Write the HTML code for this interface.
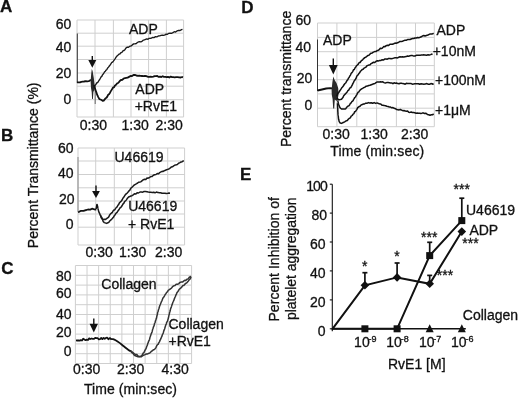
<!DOCTYPE html>
<html><head><meta charset="utf-8"><style>
html,body{margin:0;padding:0;background:#fff;width:520px;height:401px;overflow:hidden;}
svg{display:block;will-change:transform;}
text{font-family:"Liberation Sans",sans-serif;font-size:14px;fill:#111;stroke:#111;stroke-width:0.3px;}
.g{stroke:#cfcfcf;stroke-width:1;}
.k{stroke:#333;stroke-width:1;}
.c{fill:none;stroke:#111;stroke-width:1.5;stroke-linejoin:round;}
.c1{fill:none;stroke:#1a1a1a;stroke-width:1.35;stroke-linejoin:round;}
.c2{fill:none;stroke:#111;stroke-width:1.8;stroke-linejoin:round;}
.k2{stroke:#999;stroke-width:1.2;}
.cc{fill:none;stroke:#333;stroke-width:1.5;stroke-linejoin:round;}
.cd{fill:none;stroke:#111;stroke-width:1.5;stroke-linejoin:round;}
.cb{fill:none;stroke:#1a1a1a;stroke-width:1.5;stroke-linejoin:round;}
.sp{stroke:#666;stroke-width:1;}
.ar{stroke:#111;stroke-width:1.4;}
.ax1{stroke:#111;stroke-width:1.1;}
.ax2{stroke:#111;stroke-width:1.5;}
.d{fill:none;stroke:#111;stroke-width:2;}
.eb{stroke:#111;stroke-width:1.7;}
</style></head><body>
<svg width="520" height="401" viewBox="0 0 520 401">
<text x="0" y="12.4" style="font-weight:bold;font-size:17px;">A</text>
<line x1="77" y1="20" x2="77" y2="117" class="g"/>
<line x1="95" y1="20" x2="95" y2="117" class="g"/>
<line x1="113.4" y1="20" x2="113.4" y2="117" class="g"/>
<line x1="131" y1="20" x2="131" y2="117" class="g"/>
<line x1="148.6" y1="20" x2="148.6" y2="117" class="g"/>
<line x1="166.4" y1="20" x2="166.4" y2="117" class="g"/>
<line x1="183.6" y1="20" x2="183.6" y2="117" class="g"/>
<line x1="77" y1="20" x2="183.6" y2="20" class="g"/>
<line x1="77" y1="33.2" x2="183.6" y2="33.2" class="g"/>
<line x1="77" y1="46.2" x2="183.6" y2="46.2" class="g"/>
<line x1="77" y1="59.5" x2="183.6" y2="59.5" class="g"/>
<line x1="77" y1="73" x2="183.6" y2="73" class="g"/>
<line x1="77" y1="86.2" x2="183.6" y2="86.2" class="g"/>
<line x1="77" y1="99.7" x2="183.6" y2="99.7" class="g"/>
<line x1="77" y1="117" x2="183.6" y2="117" class="g"/>
<line x1="77.3" y1="33.5" x2="77.3" y2="83" class="k"/>
<text x="71.3" y="29" text-anchor="end">60</text>
<text x="71.3" y="51.9" text-anchor="end">40</text>
<text x="71.3" y="78" text-anchor="end">20</text>
<text x="71.3" y="103.6" text-anchor="end">0</text>
<text x="129" y="33.9">ADP</text>
<text x="135.3" y="93.8">ADP</text>
<text x="134.7" y="110.6">+RvE1</text>
<text x="79.8" y="130">0:30</text>
<text x="121.5" y="130">1:30</text>
<text x="155.5" y="130">2:30</text>
<line x1="92.3" y1="56" x2="92.3" y2="60.900000000000006" class="ar"/>
<polygon points="88.3,59.900000000000006 96.3,59.900000000000006 92.3,67.7" fill="#111"/>
<polyline points="77.0,82.4 78.2,82.3 80.0,82.3 81.3,81.8 82.7,81.6 84.0,81.5 85.8,81.2 87.3,81.4 88.5,81.1 89.5,80.8 90.4,80.2 91.0,80.4" class="c2"/>
<path d="M90.6,81.5 L91.2,74 L91.8,69 L92.6,71 L93.8,78 L94.6,85 L94.3,90 L93.4,92 L92.9,99 L92.1,99 L91.7,92 L91,88 Z" fill="#2a2a2a"/>
<line x1="95.2" y1="86" x2="95.2" y2="104" class="sp"/>
<polyline points="94.5,85.6 95.0,85.7 96.1,84.2 96.7,82.8 97.3,82.9 98.1,82.0 98.8,80.7 99.7,79.5 100.5,78.0 101.1,76.9 101.8,76.4 102.5,74.9 103.3,74.0 104.0,72.9 104.7,71.7 105.4,71.2 106.0,70.2 106.9,69.4 107.7,68.0 108.5,67.1 109.3,66.0 110.0,65.2 110.9,63.8 111.7,62.5 112.5,62.2 113.4,61.1 114.3,59.8 115.2,58.6 116.1,57.1 117.0,56.0 117.9,55.2 118.9,54.1 119.8,54.0 120.9,52.7 121.9,52.3 122.9,50.9 124.0,50.5 125.1,49.4 126.1,47.8 127.3,47.2 128.5,47.2 129.8,46.2 131.0,46.1 132.3,44.9 133.6,43.9 134.9,43.9 136.3,43.5 137.4,42.5 138.5,41.9 139.7,41.7 140.8,41.9 142.0,41.3 143.2,40.2 144.4,39.9 145.6,39.4 146.8,38.9 148.0,39.3 149.2,38.3 150.4,38.4 151.6,38.0 152.8,37.4 154.0,37.6 155.5,36.7 156.9,36.8 158.3,36.0 159.7,35.9 161.0,35.4 162.3,35.1 163.6,35.4 165.0,34.9 166.2,34.1 167.5,34.3 168.8,33.3 170.2,33.1 171.4,33.3 172.9,32.6 174.3,31.7 175.6,32.1 177.0,30.9 178.5,30.5 180.1,30.5 181.5,29.6 182.5,29.3" class="c1"/>
<polyline points="94.0,85.1 94.2,85.8 94.6,87.6 95.0,88.4 95.5,90.2 96.1,91.6 96.6,93.0 97.2,94.9 97.7,95.8 98.3,97.1 99.4,99.1 100.5,99.5 101.6,100.0 102.7,100.9 103.7,100.6 104.9,99.1 105.6,98.2 106.5,97.7 107.3,96.6 108.2,94.7 109.0,94.2 109.9,92.9 110.7,91.4 111.5,90.1 112.4,88.6 113.1,87.5 114.0,87.4 115.0,85.5 116.1,84.8 117.2,83.3 118.1,83.0 119.1,81.9 120.0,80.8 121.0,80.0 122.3,79.8 123.7,78.5 125.0,78.1 126.3,77.9 127.6,77.7 129.0,76.9 130.5,76.0 132.0,76.1 133.5,75.0 134.9,74.9 136.3,75.5 138.0,75.9 139.2,75.6 140.6,75.8 142.1,76.0 143.6,76.2 145.0,75.8 146.4,76.1 147.8,76.8 149.1,76.9 150.5,76.7 152.0,76.8 153.3,76.7 154.6,76.2 155.9,76.1 157.3,76.0 158.7,76.9 160.0,76.7 161.3,77.0 162.7,76.2 164.0,76.9 165.3,76.8 166.7,77.2 168.0,76.8 169.3,77.5 170.7,76.6 172.1,77.1 173.4,77.2 174.7,77.4 176.0,77.2 177.6,77.2 179.2,77.4 180.8,77.5 182.1,77.0 183.0,77.4" class="c2"/>
<text transform="translate(38.1,248.2) rotate(-90)">Percent Transmittance (%)</text>
<text x="1" y="141" style="font-weight:bold;font-size:17px;">B</text>
<line x1="78" y1="148" x2="78" y2="245" class="g"/>
<line x1="95.7" y1="148" x2="95.7" y2="245" class="g"/>
<line x1="114.3" y1="148" x2="114.3" y2="245" class="g"/>
<line x1="131.5" y1="148" x2="131.5" y2="245" class="g"/>
<line x1="149.7" y1="148" x2="149.7" y2="245" class="g"/>
<line x1="167.7" y1="148" x2="167.7" y2="245" class="g"/>
<line x1="184.6" y1="148" x2="184.6" y2="245" class="g"/>
<line x1="78" y1="148" x2="184.6" y2="148" class="g"/>
<line x1="78" y1="161" x2="184.6" y2="161" class="g"/>
<line x1="78" y1="174.5" x2="184.6" y2="174.5" class="g"/>
<line x1="78" y1="187.8" x2="184.6" y2="187.8" class="g"/>
<line x1="78" y1="201" x2="184.6" y2="201" class="g"/>
<line x1="78" y1="214" x2="184.6" y2="214" class="g"/>
<line x1="78" y1="227.2" x2="184.6" y2="227.2" class="g"/>
<line x1="78" y1="245" x2="184.6" y2="245" class="g"/>
<line x1="78" y1="157" x2="78" y2="211.5" class="k2"/>
<text x="73.5" y="153" text-anchor="end">60</text>
<text x="73.5" y="177.7" text-anchor="end">40</text>
<text x="74.5" y="204.3" text-anchor="end">20</text>
<text x="73.5" y="228.9" text-anchor="end">0</text>
<text x="114.5" y="161.5">U46619</text>
<text x="128.2" y="211">U46619</text>
<text x="128" y="228.6">+ RvE1</text>
<text x="85.5" y="257">0:30</text>
<text x="119" y="257">1:30</text>
<text x="155" y="257">2:30</text>
<line x1="96" y1="185.6" x2="96" y2="191.9" class="ar"/>
<polygon points="92.1,190.9 99.9,190.9 96,198.1" fill="#111"/>
<polyline points="78.0,212.2 79.1,211.8 80.6,210.9 82.0,210.9 83.6,210.8 85.0,210.3 86.4,210.0 88.0,209.5 89.2,209.6 90.6,209.5 92.0,208.7 93.6,209.2 95.2,209.5 96.3,209.3" class="c2"/>
<polyline points="96.3,208.8 97,204.6 97.8,208" class="c2"/>
<polyline points="97.8,208.2 98.2,209.4 98.7,211.6 99.2,212.7 99.7,213.7 100.2,215.1 100.6,215.4 101.1,217.0 101.7,217.2 102.5,218.9 103.4,219.5 104.4,219.3 105.6,219.4 106.9,218.4 107.7,217.8 108.6,217.1 109.5,215.3 110.5,213.9 111.5,213.0 112.3,212.5 113.0,211.1 113.9,210.1 114.7,209.9 115.5,208.6 116.4,207.4 117.2,206.8 117.9,205.3 118.6,204.6 119.3,203.1 120.0,202.3 120.8,201.6 121.5,200.7 122.2,199.7 122.9,198.2 123.7,197.3 124.6,195.9 125.4,194.6 126.2,193.9 127.0,193.2 127.9,192.2 128.7,191.1 129.7,190.3 130.6,188.6 131.6,187.5 132.5,186.8 133.5,185.8 134.4,184.9 135.5,184.3 136.6,183.7 137.7,183.0 138.8,182.2 140.0,182.0 141.1,181.6 142.2,180.6 143.4,179.7 144.6,179.2 145.8,179.5 147.0,178.1 148.2,178.2 149.5,177.5 150.8,176.6 152.1,176.5 153.4,175.2 154.6,174.7 156.0,174.5 157.2,173.5 158.5,173.7 159.7,172.6 161.0,171.9 162.1,171.3 163.2,171.4 164.3,170.7 165.4,170.3 166.5,169.8 167.7,169.4 168.9,169.0 170.0,168.2 171.2,167.1 172.4,166.8 173.7,165.9 175.0,165.0 176.1,164.9 177.3,164.5 178.6,163.2 179.9,162.6 181.1,162.0 182.2,161.7 183.1,161.0 183.8,160.7" class="cb"/>
<polyline points="100.2,215.1 100.6,215.6 101.1,217.2 101.7,218.7 102.3,219.1 103.2,221.4 104.2,222.6 105.2,222.9 106.5,223.4 108.0,222.7 108.8,222.4 109.7,221.0 110.6,220.2 111.6,219.4 112.6,218.1 113.4,217.3 114.2,215.8 115.0,214.9 115.9,213.3 116.7,212.7 117.5,211.7 118.3,210.5 119.1,209.5 120.0,207.9 120.7,207.5 121.5,206.5 122.2,205.5 122.9,204.1 123.9,203.1 124.7,201.4 125.6,200.9 126.4,199.9 127.5,198.2 128.6,197.0 129.8,196.5 130.8,196.0 132.0,195.7 133.2,194.8 134.4,193.8 135.7,194.1 137.1,192.8 138.5,193.0 140.0,192.0 141.3,191.9 142.7,192.2 144.1,191.5 145.5,191.5 147.0,191.8 148.3,192.1 149.6,192.3 151.0,192.2 152.4,192.6 153.7,192.3 155.0,192.8 156.4,192.1 157.8,192.4 159.2,192.8 160.6,192.7 162.0,193.2 163.4,193.2 164.9,193.2 166.4,193.5 167.9,193.3 169.1,193.1 170.0,193.2" class="cb"/>
<text x="1.2" y="273.8" style="font-weight:bold;font-size:17px;">C</text>
<line x1="75.4" y1="265.5" x2="75.4" y2="363.5" class="g"/>
<line x1="87.02000000000001" y1="265.5" x2="87.02000000000001" y2="363.5" class="g"/>
<line x1="98.64" y1="265.5" x2="98.64" y2="363.5" class="g"/>
<line x1="110.26" y1="265.5" x2="110.26" y2="363.5" class="g"/>
<line x1="121.88" y1="265.5" x2="121.88" y2="363.5" class="g"/>
<line x1="133.5" y1="265.5" x2="133.5" y2="363.5" class="g"/>
<line x1="145.12" y1="265.5" x2="145.12" y2="363.5" class="g"/>
<line x1="156.74" y1="265.5" x2="156.74" y2="363.5" class="g"/>
<line x1="168.36" y1="265.5" x2="168.36" y2="363.5" class="g"/>
<line x1="179.98000000000002" y1="265.5" x2="179.98000000000002" y2="363.5" class="g"/>
<line x1="191.6" y1="265.5" x2="191.6" y2="363.5" class="g"/>
<line x1="75.4" y1="265.5" x2="191.6" y2="265.5" class="g"/>
<line x1="75.4" y1="275.3" x2="191.6" y2="275.3" class="g"/>
<line x1="75.4" y1="285.1" x2="191.6" y2="285.1" class="g"/>
<line x1="75.4" y1="294.9" x2="191.6" y2="294.9" class="g"/>
<line x1="75.4" y1="304.7" x2="191.6" y2="304.7" class="g"/>
<line x1="75.4" y1="314.5" x2="191.6" y2="314.5" class="g"/>
<line x1="75.4" y1="324.3" x2="191.6" y2="324.3" class="g"/>
<line x1="75.4" y1="334.1" x2="191.6" y2="334.1" class="g"/>
<line x1="75.4" y1="343.9" x2="191.6" y2="343.9" class="g"/>
<line x1="75.4" y1="353.7" x2="191.6" y2="353.7" class="g"/>
<line x1="75.4" y1="363.5" x2="191.6" y2="363.5" class="g"/>
<text x="71.5" y="281.2" text-anchor="end">80</text>
<text x="71.5" y="298" text-anchor="end">60</text>
<text x="71.5" y="319.2" text-anchor="end">40</text>
<text x="71.5" y="337" text-anchor="end">20</text>
<text x="71.5" y="355.6" text-anchor="end">0</text>
<text x="101.3" y="288.5">Collagen</text>
<text x="168.5" y="328.9">Collagen</text>
<text x="168.5" y="346.2">+RvE1</text>
<text x="73" y="374">0:30</text>
<text x="117" y="374">2:30</text>
<text x="161.5" y="374">4:30</text>
<text x="84" y="394" textLength="93">Time (min:sec)</text>
<line x1="93.8" y1="318.5" x2="93.8" y2="324.8" class="ar"/>
<polygon points="89.6,323.8 98.0,323.8 93.8,332.6" fill="#111"/>
<polyline points="76,340.4 77.2,340.5 78.4,340.5 79.6,340.7 80.8,340.2 82.0,340.5 83.2,338.8 84.4,339.5 85.6,340.2 86.8,339.6 88.0,340.0 89.2,338.4 90.4,339.0 91.6,338.5 92.8,338.9 94.0,338.9 95.2,337.8 96.4,338.1 97.6,338.2 98.8,339.3 100.0,339.1 101.2,338.0 102.4,339.1 103.6,337.9 104.8,338.8 106.0,337.9 107.2,337.7 108.4,339.3 109.6,338.1 110.8,338.1" class="c2"/>
<path d="M110,338.8 C110.50,338.87 112.00,338.92 113,339.2 C114.00,339.48 114.97,339.93 116,340.5 C117.03,341.07 117.90,341.63 119.2,342.6 C120.50,343.57 122.25,345.07 123.8,346.3 C125.35,347.53 127.30,349.17 128.5,350 C129.70,350.83 130.58,351.08 131,351.3" class="c2"/>
<polyline points="131.0,351.6 131.7,352.6 132.8,353.1 134.0,354.9 135.3,355.8 136.7,356.2 138.0,356.7 139.5,356.7 141.0,356.2 141.7,355.5 142.4,354.7 143.2,353.0 143.9,352.8 144.7,350.9 145.5,349.3 146.0,348.7 146.4,347.4 146.8,346.2 147.3,345.3 147.8,343.4 148.2,342.7 148.6,341.3 149.1,340.5 149.6,339.2 150.0,337.3 150.4,336.3 150.9,334.7 151.3,333.6 151.8,332.7 152.2,331.4 152.6,329.6 153.1,328.2 153.5,326.8 153.9,326.1 154.2,325.3 154.5,323.6 155.1,322.5 155.5,320.7 155.8,319.9 156.2,318.7 156.5,318.1 156.8,316.4 157.1,315.2 157.4,314.1 157.7,312.2 158.1,311.5 158.5,309.7 158.9,308.8 159.3,307.3 159.7,305.9 160.1,305.0 160.6,303.7 161.1,302.5 161.6,301.3 162.1,300.3 162.7,298.7 163.2,297.7 163.8,297.0 164.5,295.8 165.2,294.5 165.9,293.7 166.7,292.4 167.5,291.7 168.4,290.1 169.4,289.6 170.4,288.8 171.5,288.1 172.5,286.7 173.8,285.8 175.0,285.6 176.2,284.2 177.5,284.3 178.8,283.6 180.0,282.4 181.3,282.1 182.5,282.1 183.6,281.1 184.7,280.3 185.8,280.4 186.9,279.3 188.1,278.9 189.3,277.3 190.4,276.8 191.2,276.5" class="cc"/>
<polyline points="131.0,350.8 131.8,351.5 132.9,352.7 134.2,353.7 135.4,354.5 136.6,354.4 137.7,355.5 138.9,356.5 140.0,356.6 141.2,356.8 142.4,355.8 144.0,355.0 145.1,354.6 146.3,354.0 147.6,353.9 149.0,353.3 150.3,352.6 151.5,351.3 152.4,350.6 153.4,349.8 154.3,349.5 155.1,348.7 155.9,347.6 156.7,345.7 157.5,344.6 158.1,344.4 158.7,342.9 159.3,342.1 159.9,340.6 160.4,339.6 161.0,338.4 161.5,337.1 162.0,336.1 162.5,334.4 162.9,333.9 163.3,332.8 163.8,330.9 164.2,329.9 164.6,329.0 165.0,327.5 165.4,326.2 165.7,325.2 166.3,324.0 166.7,322.2 167.2,321.9 167.6,320.6 168.1,319.0 168.4,318.1 168.7,316.6 169.0,315.1 169.3,314.0 169.6,312.6 169.9,311.8 170.3,310.3 170.6,308.6 171.0,307.9 171.5,306.4 171.9,305.1 172.4,303.9 172.9,302.2 173.3,301.5 173.8,300.4 174.3,298.9 174.8,297.7 175.4,296.5 175.9,295.0 176.4,294.3 176.9,292.7 177.7,291.7 178.4,290.7 179.2,289.3 180.0,288.7 180.9,287.9 181.9,286.9 182.8,285.6 183.8,285.4 184.7,284.4 185.7,283.4 186.6,283.0 187.5,282.0 188.3,281.0 189.2,279.7 190.0,279.1 190.7,277.8 191.2,277.1" class="cc"/>
<text x="241.3" y="12.5" style="font-weight:bold;font-size:17px;">D</text>
<line x1="317.5" y1="23" x2="317.5" y2="126.7" class="g"/>
<line x1="336.9" y1="23" x2="336.9" y2="126.7" class="g"/>
<line x1="356.8" y1="23" x2="356.8" y2="126.7" class="g"/>
<line x1="376.6" y1="23" x2="376.6" y2="126.7" class="g"/>
<line x1="396.4" y1="23" x2="396.4" y2="126.7" class="g"/>
<line x1="415.5" y1="23" x2="415.5" y2="126.7" class="g"/>
<line x1="434.3" y1="23" x2="434.3" y2="126.7" class="g"/>
<line x1="317.5" y1="23" x2="434.3" y2="23" class="g"/>
<line x1="317.5" y1="37.4" x2="434.3" y2="37.4" class="g"/>
<line x1="317.5" y1="51.7" x2="434.3" y2="51.7" class="g"/>
<line x1="317.5" y1="65.6" x2="434.3" y2="65.6" class="g"/>
<line x1="317.5" y1="79.7" x2="434.3" y2="79.7" class="g"/>
<line x1="317.5" y1="93.9" x2="434.3" y2="93.9" class="g"/>
<line x1="317.5" y1="108.2" x2="434.3" y2="108.2" class="g"/>
<line x1="317.5" y1="126.7" x2="434.3" y2="126.7" class="g"/>
<line x1="317.5" y1="39.5" x2="317.5" y2="91" class="k"/>
<text x="311" y="24.6" text-anchor="end">60</text>
<text x="311" y="52.3" text-anchor="end">40</text>
<text x="312.3" y="82.6" text-anchor="end">20</text>
<text x="312.3" y="110" text-anchor="end">0</text>
<text transform="translate(291.3,147) rotate(-90)">Percent transmittance</text>
<text x="323" y="45">ADP</text>
<text x="436.5" y="35.2">ADP</text>
<text x="432.7" y="56.3">+10nM</text>
<text x="435" y="85.4">+100nM</text>
<text x="435" y="114.8">+1μM</text>
<text x="322.5" y="138.8">0:30</text>
<text x="360.5" y="138.8">1:30</text>
<text x="401" y="138.8">2:30</text>
<text x="330.2" y="156.4" textLength="94">Time (min:sec)</text>
<line x1="333.3" y1="58.6" x2="333.3" y2="65.9" class="ar"/>
<polygon points="328.90000000000003,64.9 337.7,64.9 333.3,74.4" fill="#111"/>
<polyline points="317.5,90.5 322,89.5 326.2,88.5 330,88.2 333,88.5" class="c2"/>
<path d="M331.6,90 L332.4,82 L333.4,76.5 L334.6,80 L336.5,83 L338.2,88 L338.6,94 L337.8,99 L336.4,101 L334.8,99.5 L334.2,108.5 L333.2,108.5 L332.6,99 L331.8,95 Z" fill="#2a2a2a"/>
<polyline points="336.5,96.3 336.9,95.7 337.6,93.6 338.7,92.5 339.3,91.8 340.0,90.4 340.8,89.5 341.6,88.0 342.5,87.0 343.3,86.0 344.2,84.5 345.0,83.5 345.7,83.0 346.4,81.6 347.1,80.4 347.8,79.7 348.4,78.2 349.1,77.5 349.8,76.0 350.5,75.1 351.2,73.3 352.0,72.6 352.7,71.6 353.5,69.8 354.3,69.5 355.1,67.7 355.8,66.9 356.6,65.6 357.4,65.0 358.3,64.1 359.2,62.5 360.1,62.5 361.0,61.1 361.9,60.3 362.8,59.6 363.7,58.6 364.7,57.6 365.8,57.2 366.8,56.4 367.8,55.5 368.9,55.2 369.9,54.2 371.1,53.2 372.3,52.9 373.4,52.1 374.7,51.6 376.1,51.5 377.1,50.5 378.1,50.5 379.2,49.7 380.3,48.3 381.5,48.6 382.6,47.9 383.8,46.4 385.0,46.7 386.2,45.7 387.4,45.3 388.7,45.4 389.9,44.3 391.2,44.2 392.5,44.2 393.7,43.7 395.0,43.1 396.2,43.2 397.5,42.7 398.8,42.2 400.0,41.4 401.2,41.6 402.5,41.2 403.8,40.6 405.0,40.2 406.2,40.3 407.5,39.6 408.8,39.6 410.0,39.5 411.2,39.0 412.5,38.5 413.8,38.5 415.0,38.0 416.3,38.1 417.5,37.5 418.8,37.7 420.1,37.3 421.3,36.8 422.6,35.9 423.8,35.5 425.0,36.0 426.4,35.5 427.9,35.0 429.3,34.3 430.7,33.9 432.0,34.0 433.0,33.6 433.8,33.4" class="cd"/>
<polyline points="336.9,97.8 337.9,99.2 339.2,99.7 340.2,99.6 341.5,99.3 342.1,98.5 342.9,97.6 343.7,95.8 344.6,94.7 345.4,93.9 346.2,93.0 347.0,92.2 347.9,90.7 348.7,90.1 349.5,88.6 350.2,87.7 350.8,87.5 351.5,86.3 352.4,84.6 352.8,83.6 353.4,82.8 353.9,81.4 354.6,80.4 355.3,79.6 356.0,78.4 356.7,76.4 357.4,75.3 358.1,74.9 358.7,73.8 359.6,72.8 360.5,71.2 361.4,70.5 362.2,69.5 363.1,69.3 364.0,68.1 364.9,67.7 365.9,67.2 367.0,65.8 368.0,65.4 369.0,65.0 370.1,64.7 371.1,63.6 372.3,63.0 373.6,62.2 374.8,62.5 376.1,61.2 377.4,60.8 378.6,60.9 379.7,60.5 381.0,60.4 382.2,59.7 383.6,59.9 385.0,59.0 386.1,58.9 387.3,59.2 388.6,58.5 389.9,58.6 391.1,58.8 392.4,58.6 393.7,58.1 395.0,57.7 396.2,57.7 397.5,57.9 398.8,57.3 400.0,56.8 401.2,57.1 402.5,56.8 403.8,56.9 405.0,56.7 406.2,56.6 407.5,56.0 408.8,56.3 410.0,55.7 411.2,55.6 412.5,55.6 413.8,56.1 415.0,56.0 416.3,55.3 417.6,55.3 418.9,55.2 420.2,55.2 421.4,55.1 422.7,55.0 423.9,54.8 425.0,55.1 426.5,55.2 428.0,54.8 429.4,55.0 430.6,54.6 431.7,54.1 432.5,54.7" class="cd"/>
<polyline points="337.5,100.4 337.7,100.6 338.0,101.6 338.4,103.4 338.8,104.8 339.2,105.9 339.9,107.5 340.6,108.2 341.5,109.0 343.1,108.9 345.0,109.0 345.8,108.7 346.8,107.2 347.7,106.3 348.7,105.9 349.6,105.0 350.4,103.3 351.1,103.0 351.9,101.5 352.7,101.1 353.4,100.0 354.2,98.5 354.8,97.5 355.5,97.0 356.1,95.7 356.7,94.8 357.4,93.4 358.0,92.3 358.7,92.1 359.6,90.7 360.6,89.6 361.6,88.9 362.6,88.3 363.7,87.6 364.9,87.2 366.2,86.2 367.4,86.1 368.7,85.5 369.9,85.3 371.3,84.7 372.6,84.2 373.8,83.8 374.9,83.5 376.0,82.6 376.9,82.0 378.6,82.0 379.5,82.1 380.5,81.8 381.6,82.0 382.8,81.8 384.0,82.6 385.3,83.0 386.7,82.6 388.1,82.5 389.5,82.7 390.6,83.0 391.7,82.9 392.9,83.7 394.1,82.8 395.3,83.2 396.5,83.0 397.8,83.6 399.0,83.8 400.3,83.2 401.5,83.2 402.8,83.6 404.0,83.8 405.2,84.2 406.4,83.3 407.6,83.4 408.8,83.5 410.0,83.6 411.2,83.6 412.3,84.2 413.5,84.1 414.7,83.7 416.0,83.7 417.2,83.8 418.4,83.7 419.7,84.3 421.1,83.8 422.5,84.0 424.0,84.3 425.4,83.9 426.9,83.6 428.3,84.2 429.6,84.2 430.9,83.6 431.9,83.8 432.9,84.2 433.6,83.7" class="cd"/>
<polyline points="337.5,103.2 337.5,103.9 337.6,105.8 337.6,107.0 337.7,108.0 337.8,109.6 337.8,111.1 337.9,112.3 338.0,114.4 338.1,115.2 338.3,116.4 338.4,117.6 338.6,119.3 338.9,120.3 339.2,121.6 340.2,123.0 341.5,123.4 342.6,122.8 343.8,122.3 345.0,121.7 346.1,120.9 347.3,120.5 348.5,119.0 349.3,118.4 350.3,117.9 351.2,116.2 352.2,115.5 353.1,114.1 353.9,113.7 354.6,111.8 355.4,111.5 356.2,110.4 356.9,109.3 357.7,107.7 358.8,106.8 360.0,106.3 361.1,104.9 362.3,104.6 363.4,104.0 364.5,104.0 365.7,103.2 366.9,103.3 368.3,102.6 369.7,103.0 371.2,102.7 372.7,103.3 374.2,102.6 375.6,103.4 377.1,102.9 378.5,103.5 379.7,103.9 380.8,104.0 382.0,105.2 383.1,105.2 384.2,105.6 385.5,105.7 386.8,106.2 388.1,106.5 389.5,107.1 390.6,107.1 391.8,107.8 393.0,107.6 394.2,108.3 395.5,108.7 396.7,109.6 397.9,109.7 399.1,109.9 400.4,109.5 401.6,110.1 402.8,110.7 404.0,110.5 405.2,111.1 406.4,111.3 407.6,111.1 408.8,112.3 410.0,112.4 411.2,112.0 412.4,112.6 413.6,112.5 414.8,112.8 416.0,113.2 417.2,113.1 418.4,113.2 419.6,113.3 420.9,113.6 422.2,113.1 423.5,113.0 424.7,113.6 425.7,113.2 427.4,114.4 428.7,114.7 430.0,115.2 431.4,114.7 432.7,114.8 433.6,113.7" class="cd"/>
<text x="240" y="179.8" style="font-weight:bold;font-size:17px;">E</text>
<line x1="332.3" y1="184.2" x2="332.3" y2="330.3" class="ax1"/>
<line x1="329.8" y1="328.8" x2="332.3" y2="328.8" class="ax1"/>
<line x1="329.8" y1="299.9" x2="332.3" y2="299.9" class="ax1"/>
<line x1="329.8" y1="270.9" x2="332.3" y2="270.9" class="ax1"/>
<line x1="329.8" y1="242.0" x2="332.3" y2="242.0" class="ax1"/>
<line x1="329.8" y1="213.1" x2="332.3" y2="213.1" class="ax1"/>
<line x1="329.8" y1="184.2" x2="332.3" y2="184.2" class="ax1"/>
<line x1="332.3" y1="331.3" x2="332.3" y2="328.8" class="ax1"/>
<line x1="331.8" y1="328.8" x2="465.8" y2="328.8" class="ax2"/>
<text x="327" y="220.1" text-anchor="end">80</text>
<text x="325.6" y="249.0" text-anchor="end">60</text>
<text x="325.6" y="277.9" text-anchor="end">40</text>
<text x="325.6" y="306.9" text-anchor="end">20</text>
<text x="325.5" y="335.8" text-anchor="end">0</text>
<text x="306.2" y="191.2" textLength="21.6">100</text>
<text transform="translate(279.3,321.5) rotate(-90)" textLength="124.5">Percent Inhibition of</text>
<text transform="translate(295.8,320) rotate(-90)" textLength="122.5">platelet aggregation</text>
<polyline points="332.5,328.8 364.9,285.3 397.1,277.4 429.7,283.8 461.8,231.6" class="d"/>
<polyline points="332.5,328.8 364.9,328.8 397.1,328.8 429.7,255.6 461.8,220.6" class="d"/>
<line x1="364.9" y1="285.3" x2="364.9" y2="272.7" class="eb"/>
<line x1="362.4" y1="272.7" x2="367.4" y2="272.7" class="eb"/>
<line x1="397.1" y1="277.4" x2="397.1" y2="263.0" class="eb"/>
<line x1="394.6" y1="263.0" x2="399.6" y2="263.0" class="eb"/>
<line x1="429.7" y1="283.8" x2="429.7" y2="275.4" class="eb"/>
<line x1="427.2" y1="275.4" x2="432.2" y2="275.4" class="eb"/>
<line x1="429.7" y1="255.6" x2="429.7" y2="242.3" class="eb"/>
<line x1="427.2" y1="242.3" x2="432.2" y2="242.3" class="eb"/>
<line x1="461.8" y1="220.6" x2="461.8" y2="198.2" class="eb"/>
<line x1="459.3" y1="198.2" x2="464.3" y2="198.2" class="eb"/>
<polygon points="364.9,281.0 369.2,285.3 364.9,289.6 360.59999999999997,285.3" fill="#111"/>
<polygon points="397.1,273.09999999999997 401.40000000000003,277.4 397.1,281.7 392.8,277.4" fill="#111"/>
<polygon points="429.7,279.5 434.0,283.8 429.7,288.1 425.4,283.8" fill="#111"/>
<polygon points="461.8,227.29999999999998 466.1,231.6 461.8,235.9 457.5,231.6" fill="#111"/>
<rect x="361.4" y="325.3" width="7" height="7" fill="#111"/>
<rect x="393.6" y="325.3" width="7" height="7" fill="#111"/>
<rect x="426.2" y="252.1" width="7" height="7" fill="#111"/>
<rect x="458.3" y="217.1" width="7" height="7" fill="#111"/>
<polygon points="425.7,332.3 433.7,332.3 429.7,324.2" fill="#111"/>
<polygon points="457.8,332.3 465.8,332.3 461.8,324.2" fill="#111"/>
<text x="362.09999999999997" y="270.5">*</text>
<text x="394.3" y="260.8">*</text>
<text x="421" y="242">***</text>
<text x="453.5" y="193.8">***</text>
<text x="436.8" y="280">***</text>
<text x="462.3" y="247.7">***</text>
<text x="466" y="214.6">U46619</text>
<text x="469.4" y="234.6">ADP</text>
<text x="462.8" y="319.6">Collagen</text>
<text x="354.09999999999997" y="346.8">10</text>
<text x="368.5" y="342.2" style="font-size:9px;">-9</text>
<text x="386.3" y="346.8">10</text>
<text x="400.70000000000005" y="342.2" style="font-size:9px;">-8</text>
<text x="418.9" y="346.8">10</text>
<text x="433.3" y="342.2" style="font-size:9px;">-7</text>
<text x="451.0" y="346.8">10</text>
<text x="465.40000000000003" y="342.2" style="font-size:9px;">-6</text>
<text x="388" y="368.8">RvE1 [M]</text>
</svg>
</body></html>
